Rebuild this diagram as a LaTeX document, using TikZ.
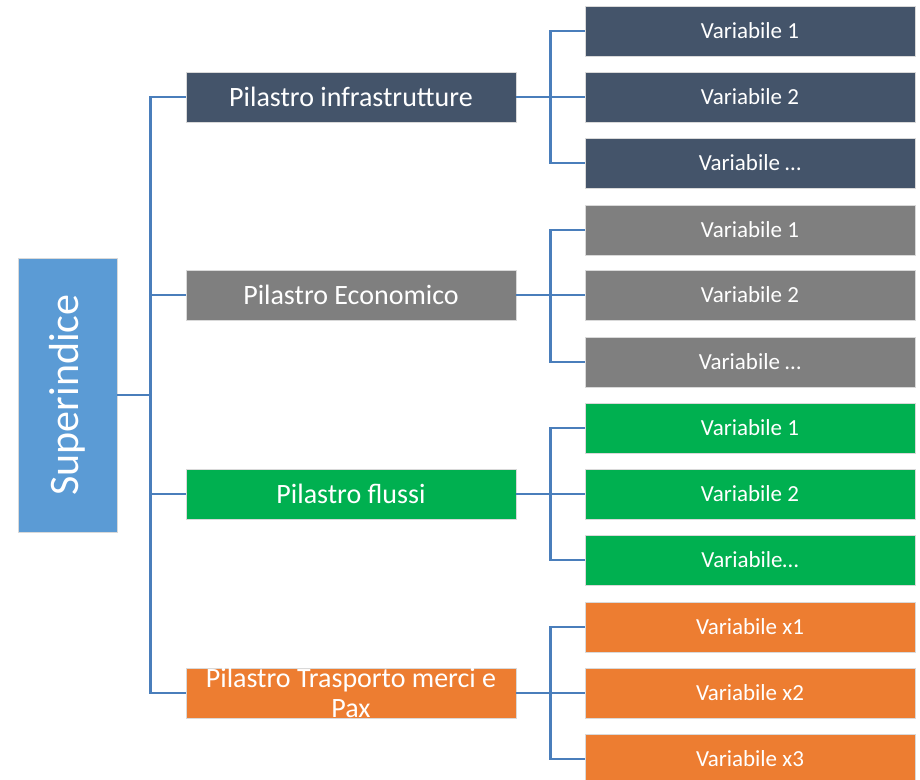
\documentclass[tikz,border=0pt]{standalone}
\usepackage{fontspec}
\setmainfont{Carlito}
\usepackage{xcolor}

\definecolor{supblue}{HTML}{5B9BD5}
\definecolor{slate}{HTML}{44546A}
\definecolor{midgray}{HTML}{7F7F7F}
\definecolor{leafgreen}{HTML}{00B050}
\definecolor{orangebox}{HTML}{ED7D31}
\definecolor{linkblue}{HTML}{4A7EBB}

\begin{document}
\begin{tikzpicture}[x=1pt, y=-1pt,
  box/.style={draw=white!85!black, line width=0.6pt, text=white, inner sep=0pt},
  pillar/.style={box, minimum width=330pt, minimum height=50pt, font=\fontsize{28}{30}\selectfont, align=center},
  var/.style={box, minimum width=330pt, minimum height=50pt, font=\fontsize{23}{28}\selectfont},
  link/.style={draw=linkblue, line width=2.6pt}]
  \clip (0,0) rectangle (920,779);

  % Superindice
  \node[box, fill=supblue, rotate=90, minimum width=274pt, minimum height=99pt,
        font=\fontsize{42}{48}\selectfont] (sup) at (67.5, 395) {Superindice};

  % Pillars
  \node[pillar, fill=slate] (p1) at (351, 97) {Pilastro infrastrutture};
  \node[pillar, fill=midgray] (p2) at (351, 295) {Pilastro Economico};
  \node[pillar, fill=leafgreen] (p3) at (351, 494) {Pilastro flussi};
  \node[pillar, fill=orangebox] (p4) at (351, 693) {Pilastro Trasporto merci e\\Pax};

  % Variables, pillar 1
  \node[var, fill=slate] (v11) at (750, 31) {Variabile 1};
  \node[var, fill=slate] (v12) at (750, 97) {Variabile 2};
  \node[var, fill=slate] (v13) at (750, 163) {Variabile \dots};
  % Variables, pillar 2
  \node[var, fill=midgray] (v21) at (750, 230) {Variabile 1};
  \node[var, fill=midgray] (v22) at (750, 295) {Variabile 2};
  \node[var, fill=midgray] (v23) at (750, 362) {Variabile \dots};
  % Variables, pillar 3
  \node[var, fill=leafgreen] (v31) at (750, 428) {Variabile 1};
  \node[var, fill=leafgreen] (v32) at (750, 494) {Variabile 2};
  \node[var, fill=leafgreen] (v33) at (750, 560) {Variabile\dots};
  % Variables, pillar 4
  \node[var, fill=orangebox] (v41) at (750, 627) {Variabile x1};
  \node[var, fill=orangebox] (v42) at (750, 693) {Variabile x2};
  \node[var, fill=orangebox] (v43) at (750, 759) {Variabile x3};

  % Superindice -> pillars
  \draw[link] (sup.south) -- ++(33,0) coordinate (j0);
  \draw[link] (j0) |- (p1.west);
  \draw[link] (j0) |- (p2.west);
  \draw[link] (j0) |- (p3.west);
  \draw[link] (j0) |- (p4.west);

  % Pillars -> variables
  \draw[link] (p1.east) -- ++(34,0) coordinate (j1);
  \draw[link] (j1) |- (v11.west);
  \draw[link] (j1) -- (v12.west);
  \draw[link] (j1) |- (v13.west);

  \draw[link] (p2.east) -- ++(34,0) coordinate (j2);
  \draw[link] (j2) |- (v21.west);
  \draw[link] (j2) -- (v22.west);
  \draw[link] (j2) |- (v23.west);

  \draw[link] (p3.east) -- ++(34,0) coordinate (j3);
  \draw[link] (j3) |- (v31.west);
  \draw[link] (j3) -- (v32.west);
  \draw[link] (j3) |- (v33.west);

  \draw[link] (p4.east) -- ++(34,0) coordinate (j4);
  \draw[link] (j4) |- (v41.west);
  \draw[link] (j4) -- (v42.west);
  \draw[link] (j4) |- (v43.west);
\end{tikzpicture}
\end{document}
